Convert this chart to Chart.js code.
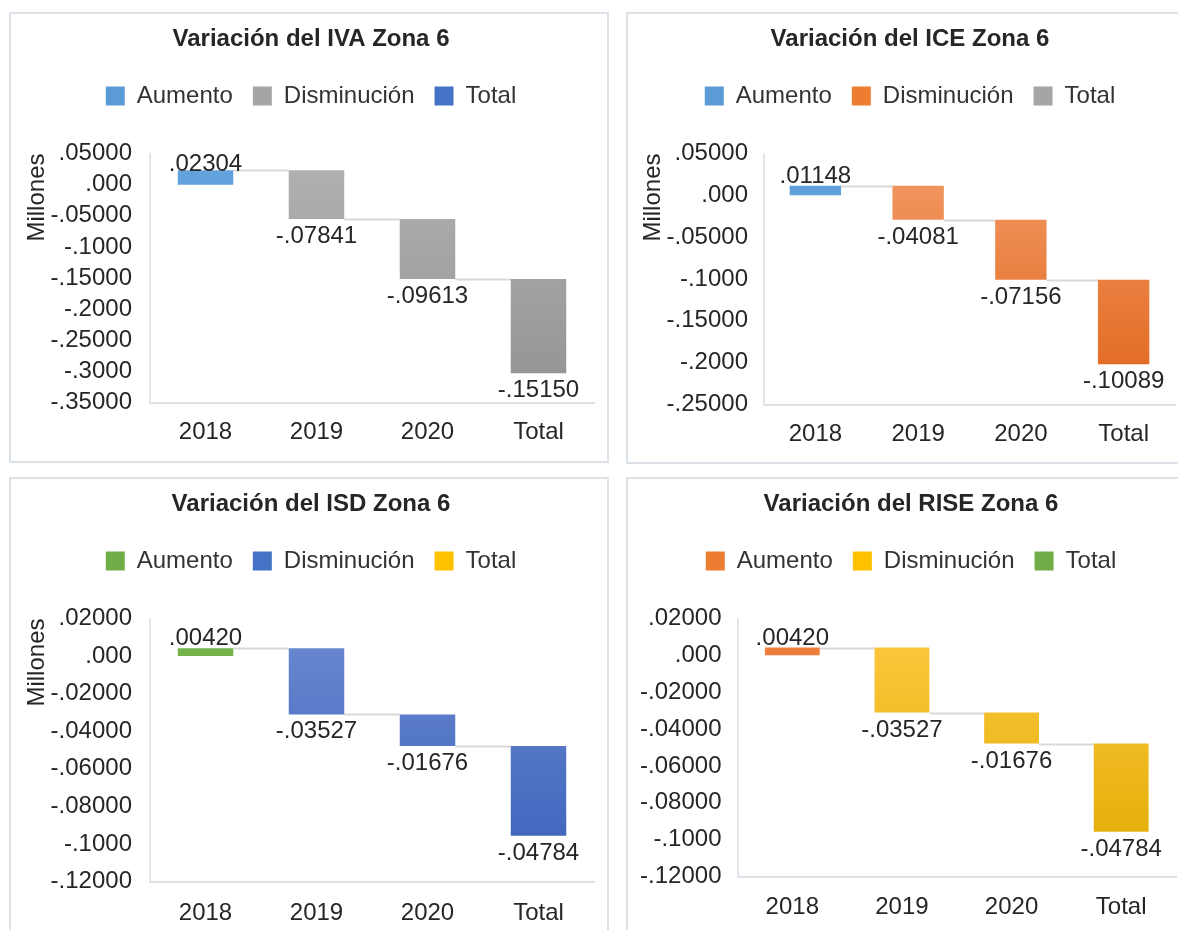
<!DOCTYPE html>
<html>
<head>
<meta charset="utf-8">
<script src="https://cdn.jsdelivr.net/npm/chart.js@4.4.1/dist/chart.umd.min.js"></script>
<style>
  html, body { margin: 0; padding: 0; background: #fff; width: 1178px; height: 930px; overflow: hidden; }
  .panel { position: absolute; box-sizing: border-box; border: 2px solid #dde2e9; background: #fff; }
  canvas { position: absolute; }
</style>
</head>
<body>
<div class="panel" style="left:9px;top:12px;width:600px;height:451px"></div>
<div class="panel" style="left:626px;top:12px;width:570px;height:452px"></div>
<div class="panel" style="left:9px;top:477px;width:600px;height:470px"></div>
<div class="panel" style="left:626px;top:477px;width:570px;height:470px"></div>
<canvas id="iva" width="600" height="447" style="left:11px;top:14px"></canvas>
<canvas id="ice" width="564" height="448" style="left:628px;top:14px"></canvas>
<canvas id="isd" width="600" height="466" style="left:11px;top:479px"></canvas>
<canvas id="rise" width="566" height="466" style="left:628px;top:479px"></canvas>
<script>
// data
const categories = ['2018', '2019', '2020', 'Total'];
const ivaChanges = [0.02304, -0.07841, -0.09613, -0.15150];
const iceChanges = [0.01148, -0.04081, -0.07156, -0.10089];
const isdChanges = [0.00420, -0.03527, -0.01676, -0.04784];
const riseChanges = [0.00420, -0.03527, -0.01676, -0.04784];

const ivaTicks = [0.05, 0, -0.05, -0.10, -0.15, -0.20, -0.25, -0.30, -0.35];
const ivaTickLabels = ['.05000', '.000', '-.05000', '-.1000', '-.15000', '-.2000', '-.25000', '-.3000', '-.35000'];
const iceTicks = [0.05, 0, -0.05, -0.10, -0.15, -0.20, -0.25];
const iceTickLabels = ['.05000', '.000', '-.05000', '-.1000', '-.15000', '-.2000', '-.25000'];
const smallTicks = [0.02, 0, -0.02, -0.04, -0.06, -0.08, -0.10, -0.12];
const smallTickLabels = ['.02000', '.000', '-.02000', '-.04000', '-.06000', '-.08000', '-.1000', '-.12000'];

const legendNames = ['Aumento', 'Disminución', 'Total'];

Chart.defaults.font.family = '"Liberation Sans", Arial, sans-serif';
Chart.defaults.color = '#262626';

const TXT = 24;

function fmt(v) {
    return (v < 0 ? '-' : '') + Math.abs(v).toFixed(5).slice(1);
}

function fill(top, bottom) {
    return (c) => {
        const area = c.chart.chartArea;
        if (!area) return top;
        const g = c.chart.ctx.createLinearGradient(0, area.top, 0, area.bottom);
        g.addColorStop(0, top);
        g.addColorStop(1, bottom);
        return g;
    };
}

function makeChart(id, cfg) {
    let run = 0;
    const ranges = cfg.changes.map(v => {
        const r = [run, run + v];
        run += v;
        return r;
    });
    const up = ranges.map((r, i) => cfg.changes[i] > 0 ? r : null);
    const down = ranges.map((r, i) => cfg.changes[i] < 0 ? r : null);
    const solids = [cfg.upColor[0], cfg.downColor[0], cfg.totalColor];

    const waterfall = {
        id: 'waterfall',
        beforeDatasetsDraw(chart) {
            const { ctx, scales: { x, y } } = chart;
            const half = (x.getPixelForValue(1) - x.getPixelForValue(0)) * 0.25;
            ctx.save();
            ctx.strokeStyle = '#d9d9d9';
            ctx.lineWidth = 2;
            for (let i = 0; i < ranges.length - 1; i++) {
                const py = Math.round(y.getPixelForValue(ranges[i][1])) + 0.5;
                ctx.beginPath();
                ctx.moveTo(x.getPixelForValue(i) + half, py);
                ctx.lineTo(x.getPixelForValue(i + 1) - half, py);
                ctx.stroke();
            }
            ctx.restore();
        },
        afterDatasetsDraw(chart) {
            const { ctx, chartArea, scales: { x, y } } = chart;
            ctx.save();
            ctx.font = TXT + 'px "Liberation Sans", Arial, sans-serif';
            ctx.fillStyle = '#262626';
            ctx.textAlign = 'center';
            ctx.textBaseline = 'alphabetic';
            cfg.changes.forEach((v, i) => {
                const end = y.getPixelForValue(ranges[i][1]);
                const py = v >= 0 ? Math.max(end - 3, chartArea.top + 17) : end + 24;
                ctx.fillText(fmt(v), x.getPixelForValue(i), py);
            });
            ctx.restore();
        }
    };

    const ds = (label, data, c) => ({
        label: label,
        data: data,
        backgroundColor: fill(c[1], c[2]),
        borderWidth: 0,
        grouped: false,
        barPercentage: 0.5,
        categoryPercentage: 1,
        yAxisID: 'y'
    });

    return new Chart(document.getElementById(id), {
        type: 'bar',
        data: {
            labels: categories,
            datasets: [
                ds(legendNames[0], up, cfg.upColor),
                ds(legendNames[1], down, cfg.downColor),
                ds(legendNames[2], categories.map(() => null), [cfg.totalColor, cfg.totalColor, cfg.totalColor])
            ]
        },
        options: {
            responsive: false,
            animation: false,
            events: [],
            layout: { padding: 0 },
            plugins: {
                title: {
                    display: true,
                    text: cfg.title,
                    font: { size: TXT, weight: 'bold' },
                    color: '#262626',
                    padding: { top: 10.6, bottom: 10.6 }
                },
                legend: {
                    labels: {
                        boxWidth: 19,
                        boxHeight: 19,
                        padding: 20,
                        font: { size: TXT },
                        color: '#333333',
                        generateLabels: chart => Chart.defaults.plugins.legend.labels.generateLabels(chart)
                            .map((item, i) => Object.assign(item, { fillStyle: solids[i], lineWidth: 0 }))
                    }
                },
                subtitle: {
                    display: true,
                    text: '',
                    weight: 100,
                    font: { size: 10 },
                    padding: { top: 23.5, bottom: 0 }
                },
                tooltip: { enabled: false }
            },
            scales: {
                x: {
                    grid: { display: false, drawTicks: false },
                    border: { color: '#dde2e8', width: 2 },
                    ticks: { font: { size: TXT }, color: '#262626', padding: cfg.xPad },
                    afterFit: s => { s.height = cfg.xHeight; }
                },
                y: {
                    min: cfg.ticks[cfg.ticks.length - 1],
                    max: cfg.ticks[0],
                    afterBuildTicks: s => { s.ticks = cfg.ticks.map(v => ({ value: v })); },
                    grid: { display: false, drawTicks: false },
                    border: { color: '#e3e6ea', width: 2 },
                    ticks: {
                        autoSkip: false,
                        font: { size: TXT },
                        color: '#262626',
                        padding: cfg.yPad,
                        callback: (v, i) => cfg.tickLabels[i]
                    },
                    title: {
                        display: cfg.yTitle,
                        text: 'Millones',
                        align: 'end',
                        font: { size: TXT },
                        color: '#262626',
                        padding: { top: cfg.yTitlePad, bottom: 0 }
                    },
                    afterFit: s => { s.width = cfg.yWidth; }
                },
                yr: {
                    type: 'linear',
                    position: 'right',
                    grid: { display: false, drawTicks: false },
                    border: { display: false },
                    ticks: { display: false },
                    afterFit: s => { s.width = cfg.rightWidth; }
                }
            }
        },
        plugins: [waterfall]
    });
}

makeChart('iva', {
    title: 'Variación del IVA Zona 6',
    changes: ivaChanges, ticks: ivaTicks, tickLabels: ivaTickLabels,
    upColor: ['#5b9bd5', '#66a5de', '#3f80c2'],
    downColor: ['#a5a5a5', '#b2b2b2', '#929292'],
    totalColor: '#4472c4',
    yTitle: true, yTitlePad: 11.6, yWidth: 139, rightWidth: 17,
    yPad: 18, xPad: 15.2, xHeight: 58.5
});

makeChart('ice', {
    title: 'Variación del ICE Zona 6',
    changes: iceChanges, ticks: iceTicks, tickLabels: iceTickLabels,
    upColor: ['#5b9bd5', '#66a5de', '#3f80c2'],
    downColor: ['#ed7d31', '#f39c68', '#e0641a'],
    totalColor: '#a5a5a5',
    yTitle: true, yTitlePad: 10.6, yWidth: 136, rightWidth: 17,
    yPad: 16, xPad: 15.2, xHeight: 57.5
});

makeChart('isd', {
    title: 'Variación del ISD Zona 6',
    changes: isdChanges, ticks: smallTicks, tickLabels: smallTickLabels,
    upColor: ['#70ad47', '#78b64f', '#5f9a3a'],
    downColor: ['#4472c4', '#6b8bd0', '#3a60bb'],
    totalColor: '#ffc000',
    yTitle: true, yTitlePad: 11.6, yWidth: 139, rightWidth: 17,
    yPad: 18, xPad: 17.2, xHeight: 63.5
});

makeChart('rise', {
    title: 'Variación del RISE Zona 6',
    changes: riseChanges, ticks: smallTicks, tickLabels: smallTickLabels,
    upColor: ['#ed7d31', '#f08040', '#e06a20'],
    downColor: ['#ffc000', '#ffc943', '#e0ab00'],
    totalColor: '#70ad47',
    yTitle: false, yTitlePad: 0, yWidth: 109.5, rightWidth: 18,
    yPad: 16, xPad: 16.2, xHeight: 68.5
});
</script>
</body>
</html>
